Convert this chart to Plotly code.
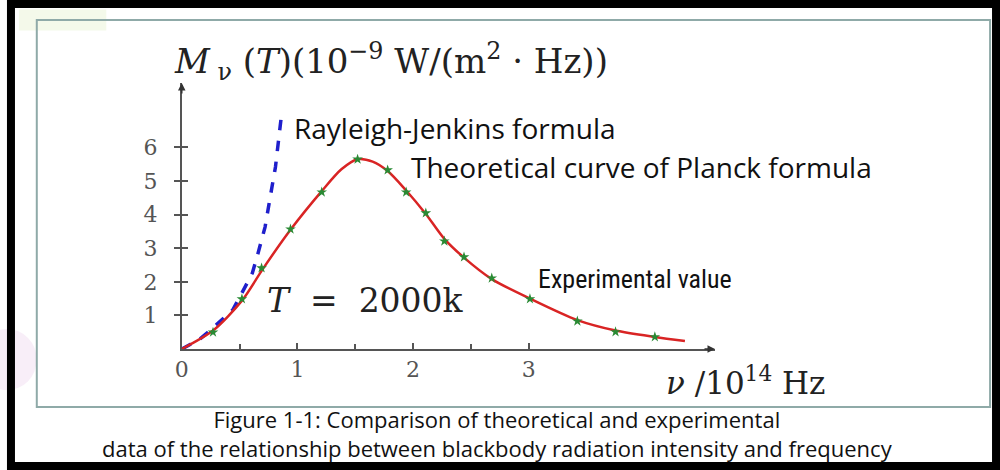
import plotly.graph_objects as go

# experimental points (nu in 1e14 Hz, M in 1e-9 W/(m^2 Hz))
exp_nu = [0.27, 0.52, 0.69, 0.94, 1.21, 1.52, 1.78, 1.94, 2.11, 2.27, 2.44, 2.68, 3.01, 3.42, 3.75, 4.09]
exp_m = [0.50, 1.49, 2.41, 3.57, 4.67, 5.65, 5.33, 4.67, 4.05, 3.21, 2.74, 2.11, 1.49, 0.83, 0.51, 0.36]

# Planck curve
planck_nu = [0.0, 0.27, 0.52, 0.70, 0.94, 1.21, 1.38, 1.52, 1.65, 1.78, 1.94, 2.11, 2.27, 2.44, 2.68, 3.01, 3.42, 3.75, 4.09, 4.35]
planck_m = [0.0, 0.55, 1.44, 2.38, 3.55, 4.70, 5.35, 5.65, 5.58, 5.30, 4.72, 4.02, 3.28, 2.72, 2.08, 1.50, 0.86, 0.55, 0.36, 0.24]

# Rayleigh-Jeans curve
rj_nu = [0.0, 0.15, 0.25, 0.32, 0.44, 0.52, 0.61, 0.66, 0.72, 0.76, 0.81, 0.85, 0.865]
rj_m = [0.0, 0.28, 0.57, 0.80, 1.16, 1.67, 2.26, 2.86, 3.63, 4.43, 5.42, 6.61, 7.05]

x_ticks = [0, 1, 2, 3]
x_minor = [0.5, 1.5, 2.5]
y_ticks = [1, 2, 3, 4, 5, 6]

SERIF = "DejaVu Serif, serif"
SANS = "Open Sans, Noto Sans, sans-serif"
AXIS_COL = "#555555"

fig = go.Figure()

fig.add_trace(go.Scatter(
    x=rj_nu, y=rj_m, mode="lines",
    line=dict(color="#1f1fcc", width=3.5, dash="dash"),
))
fig.add_trace(go.Scatter(
    x=planck_nu, y=planck_m, mode="lines",
    line=dict(color="#d92424", width=2.5, shape="spline", smoothing=0.8),
))
fig.add_trace(go.Scatter(
    x=exp_nu, y=exp_m, mode="markers",
    marker=dict(symbol="star", size=8, color="#2a8a34", line=dict(width=0)),
))
# empty trace so the second y axis (inner half of the crossing ticks) is drawn
fig.add_trace(go.Scatter(x=[None], y=[None], yaxis="y2", hoverinfo="skip"))

fig.update_layout(
    width=1000, height=470,
    margin=dict(l=0, r=0, t=0, b=0),
    paper_bgcolor="white", plot_bgcolor="rgba(0,0,0,0)",
    showlegend=False,
    xaxis=dict(
        domain=[0.176, 0.713], range=[0, 4.61],
        showgrid=False, zeroline=False,
        showline=True, linecolor=AXIS_COL, linewidth=1.5,
        tickvals=x_ticks, ticks="inside", ticklen=6, tickcolor=AXIS_COL, tickwidth=1.5,
        minor=dict(tickvals=x_minor, ticks="inside", ticklen=5, tickcolor=AXIS_COL, tickwidth=1.5),
        tickfont=dict(family=SERIF, size=22, color="#555555"),
        ticklabelstandoff=0,
    ),
    yaxis=dict(
        domain=[0.2574, 0.8234], range=[0, 7.92],
        showgrid=False, zeroline=False,
        showline=True, linecolor=AXIS_COL, linewidth=1.5,
        tickvals=y_ticks, ticks="outside", ticklen=6, tickcolor=AXIS_COL, tickwidth=1.5,
        tickfont=dict(family=SERIF, size=22, color="#555555"),
        ticklabelstandoff=12,
    ),
    yaxis2=dict(
        overlaying="y", anchor="x", range=[0, 7.92],
        showgrid=False, zeroline=False, showline=False,
        tickvals=y_ticks, ticks="inside", ticklen=6, tickcolor=AXIS_COL, tickwidth=1.5,
        showticklabels=False,
    ),
)

shapes = [
    # faint coloured blobs of the screenshot background
    dict(type="circle", xref="paper", yref="paper", x0=-0.03, x1=0.03, y0=0.17, y1=0.3,
         fillcolor="#f4e2f4", opacity=0.6, line=dict(width=0), layer="below"),
    dict(type="rect", xref="paper", yref="paper", x0=0.012, x1=0.1, y0=0.935, y1=0.98,
         fillcolor="#f4f9ea", line=dict(width=0), layer="below"),
    # inner frame
    dict(type="rect", xref="paper", yref="paper", x0=0.03, x1=0.99, y0=1 - 407 / 470, y1=1 - 20 / 470,
         fillcolor="rgba(0,0,0,0)", line=dict(color="#8faaa8", width=2)),
    # outer black frame
    dict(type="rect", xref="paper", yref="paper", x0=0.004, x1=0.996, y0=0.0085, y1=0.9915,
         fillcolor="rgba(0,0,0,0)", line=dict(color="#000000", width=8)),
]
fig.update_layout(shapes=shapes)

ann = []
# axis arrows
ann.append(dict(x=4.61, y=0, xref="x", yref="y", ax=-12, ay=0, text="", showarrow=True,
                arrowhead=2, arrowsize=1, arrowwidth=1.5, arrowcolor="#333333"))
ann.append(dict(x=0, y=7.92, xref="x", yref="y", ax=0, ay=12, text="", showarrow=True,
                arrowhead=2, arrowsize=1, arrowwidth=1.5, arrowcolor="#333333"))
# axis titles
ann.append(dict(x=0.166, y=1 - 62 / 470, xref="paper", yref="paper", xanchor="left", yanchor="middle",
                text="<i>M</i><sub> ν</sub> (<i>T</i>)(10<sup>−9</sup> W/(m<sup>2</sup> · Hz))",
                showarrow=False, font=dict(family=SERIF, size=34, color="#222222")))
ann.append(dict(x=0.662, y=1 - 381 / 470, xref="paper", yref="paper", xanchor="left", yanchor="middle",
                text="<i>ν</i> /10<sup>14</sup> Hz",
                showarrow=False, font=dict(family=SERIF, size=31, color="#222222")))
ann.append(dict(x=0.26, y=1 - 300 / 470, xref="paper", yref="paper", xanchor="left", yanchor="middle",
                text="<i>T</i>\u00a0\u00a0=\u00a0\u00a02000k",
                showarrow=False, font=dict(family=SERIF, size=33, color="#222222")))
# curve labels
ann.append(dict(x=0.287, y=1 - 128 / 470, xref="paper", yref="paper", xanchor="left", yanchor="middle",
                text="Rayleigh-Jenkins formula", bgcolor="white",
                showarrow=False, font=dict(family=SANS, size=28, color="#111111")))
ann.append(dict(x=0.405, y=1 - 167 / 470, xref="paper", yref="paper", xanchor="left", yanchor="middle",
                text="Theoretical curve of Planck formula", bgcolor="white",
                showarrow=False, font=dict(family=SANS, size=28, color="#111111")))
ann.append(dict(x=0.533, y=1 - 279 / 470, xref="paper", yref="paper", xanchor="left", yanchor="middle",
                text="Experimental value",
                showarrow=False,
                font=dict(family="Liberation Sans Narrow, Roboto Condensed, sans-serif", size=26, color="#111111")))
# caption
ann.append(dict(x=0.494, y=1 - 433 / 470, xref="paper", yref="paper", xanchor="center", yanchor="middle",
                text="Figure 1-1: Comparison of theoretical and experimental<br>"
                     "data of the relationship between blackbody radiation intensity and frequency",
                showarrow=False, font=dict(family=SANS, size=22, color="#111111")))
fig.update_layout(annotations=ann)

fig.write_html("out.html", config={"displayModeBar": False},
               post_script="document.body.style.margin='0';")
